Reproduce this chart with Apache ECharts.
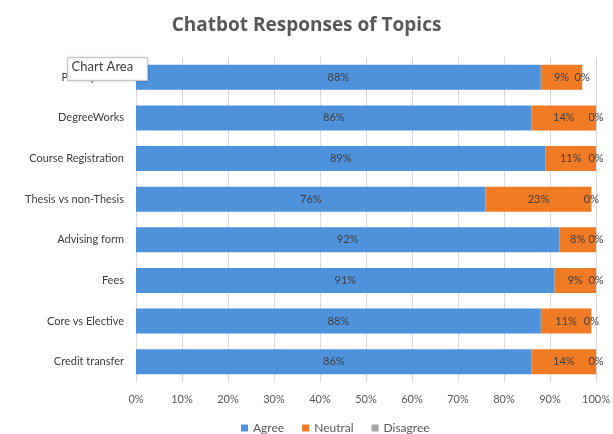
<!DOCTYPE html>
<html>
<head>
<meta charset="utf-8">
<script src="https://cdn.jsdelivr.net/npm/echarts@6/dist/echarts.min.js"></script>
<style>
  html, body { margin: 0; padding: 0; background: #fff; }
  #chart { width: 613px; height: 434px; }
</style>
</head>
<body>
<div id="chart"></div>
<script>
var topics = ['Prerequisites', 'DegreeWorks', 'Course Registration', 'Thesis vs non-Thesis',
    'Advising form', 'Fees', 'Core vs Elective', 'Credit transfer'];
var agree = [88, 86, 89, 76, 92, 91, 88, 86];
var neutral = [9, 14, 11, 23, 8, 9, 11, 14];
var disagree = [0, 0, 0, 0, 0, 0, 0, 0];
var tickLabels = ['0%', '10%', '20%', '30%', '40%', '50%', '60%', '70%', '80%', '90%', '100%'];

var chart = echarts.init(document.getElementById('chart'));

function barSeries(name, values, color) {
    return {
        name: name,
        type: 'bar',
        stack: 'total',
        data: values,
        barWidth: 25,
        itemStyle: { color: color },
        label: {
            show: true,
            position: 'inside',
            formatter: '{c}%',
            color: '#404040',
            fontSize: 11,
            fontFamily: 'Lato'
        }
    };
}

var options = {
    animation: false,
    textStyle: { fontFamily: 'Lato' },
    title: {
        text: 'Chatbot Responses of Topics',
        left: 'center',
        top: 11,
        textStyle: { fontSize: 19, fontWeight: 'bold', color: '#595959', fontFamily: 'Open Sans' }
    },
    legend: {
        top: 417,
        left: 236,
        itemWidth: 7,
        itemHeight: 7,
        itemGap: 18,
        icon: 'rect',
        textStyle: { color: '#595959', fontSize: 12 },
        data: ['Agree', 'Neutral', 'Disagree']
    },
    grid: { left: 136, right: 11, top: 57, bottom: 52 },
    xAxis: {
        type: 'value',
        min: 0,
        max: 100,
        interval: 10,
        axisLine: { show: false },
        axisTick: { show: false },
        splitLine: { lineStyle: { color: '#d9d9d9' } },
        axisLabel: {
            color: '#595959',
            fontSize: 11,
            margin: 12,
            formatter: function (v) { return tickLabels[v / 10]; }
        }
    },
    yAxis: {
        type: 'category',
        inverse: true,
        data: topics,
        axisLine: { show: false },
        axisTick: { show: false },
        axisLabel: { color: '#404040', fontSize: 11, margin: 12 }
    },
    series: [
        barSeries('Agree', agree, '#4e92dc'),
        barSeries('Neutral', neutral, '#f07b24'),
        barSeries('Disagree', disagree, '#a5a5a5')
    ],
    graphic: [
        {
            // Excel hover tooltip captured in the screenshot
            type: 'group',
            left: 67,
            top: 57,
            z: 100,
            children: [
                {
                    type: 'rect',
                    z: 100,
                    shape: { x: 0, y: 0, width: 80, height: 23 },
                    style: { fill: '#ffffff', stroke: '#c8c8c8', lineWidth: 1, shadowBlur: 3, shadowColor: 'rgba(0,0,0,0.2)' }
                },
                {
                    type: 'text',
                    z: 101,
                    left: 4,
                    top: 3,
                    style: { text: 'Chart Area', fill: '#404040', fontSize: 13, fontFamily: 'Lato' }
                }
            ]
        }
    ]
};
chart.setOption(options);
</script>
</body>
</html>
